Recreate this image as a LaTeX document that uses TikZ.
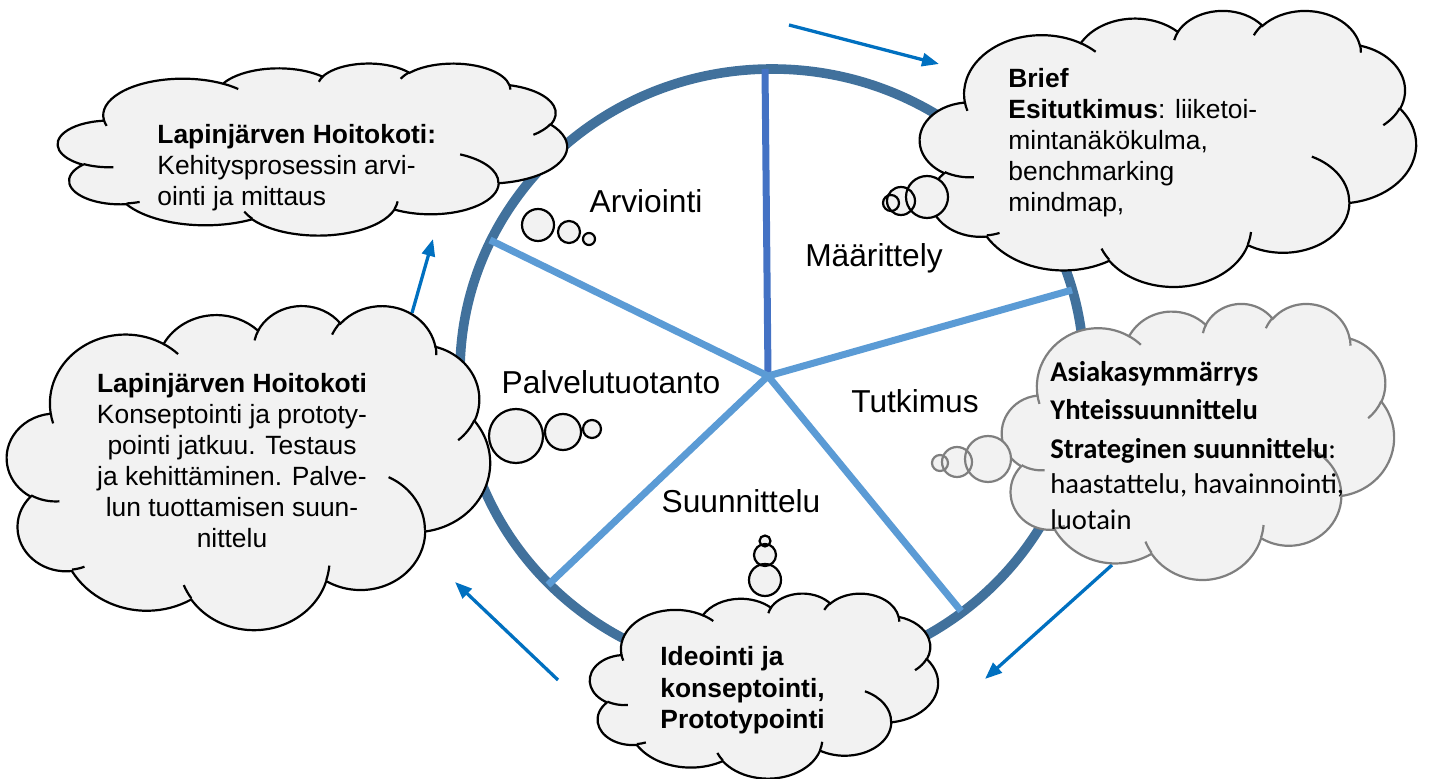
\documentclass[tikz,border=0pt]{standalone}
\usepackage{fontspec}
\setmainfont{Liberation Sans}
\newfontfamily\calibri{Carlito}
\usetikzlibrary{arrows.meta}

\definecolor{ringblue}{HTML}{41719C}
\definecolor{spokeblue}{HTML}{5B9BD5}
\definecolor{topblue}{HTML}{4472C4}
\definecolor{arrowblue}{HTML}{0070C0}
\definecolor{cloudfill}{HTML}{F2F2F2}
\definecolor{cloudgray}{HTML}{7F7F7F}

\tikzset{
    oarc/.code args={#1/#2/#3/#4}{%
        \pgfmathsetmacro\oarcst{atan2(#1*sin(#3),#2*cos(#3))}%
        \pgfmathsetmacro\oarcen{atan2(#1*sin(#3+#4),#2*cos(#3+#4))}%
        \pgfmathsetmacro\oarcdl{\oarcen-\oarcst}%
        \pgfmathsetmacro\oarcdl{\oarcdl+360*(#4>0)*(\oarcdl<0)-360*(#4<0)*(\oarcdl>0)}%
        \edef\oarctmp{\noexpand\pgfkeysalso{x radius=#1,y radius=#2,start angle=\oarcst,delta angle=\oarcdl}}%
        \oarctmp
    },
    phase/.style={font=\fontsize{15.85}{19}\selectfont, inner sep=0pt, anchor=base},
    cloudtext/.style={font=\fontsize{13.2}{15.5}\selectfont, inner sep=0pt, align=left, anchor=north west},
    flow/.style={arrowblue, line width=1.65pt, -{Triangle[length=8.5pt,width=6.5pt]}},
    spoke/.style={spokeblue, line width=3.5pt},
}

% cloud outline: colour, left, top, width, height
\newcommand\cloudbody[5]{%
    \pgfmathsetmacro\cloudxu{#4/864}%
    \pgfmathsetmacro\cloudyu{#5/864}%
    \begin{scope}[shift={(#2,#3)}, x=\cloudxu pt, y=-\cloudyu pt]
        \filldraw[draw=#1, fill=cloudfill, line width=1.1pt]
            (39,143.7)
            arc[oarc=67.53/91.90/-190.4875/123.7805]
            arc[oarc=53.33/72.67/-144.1024/89.9452]
            arc[oarc=43.65/59.45/-145.8079/99.7230]
            arc[oarc=48.57/65.95/-130.9861/117.2417]
            arc[oarc=53.33/72.73/-78.7089/109.0269]
            arc[oarc=67.75/92.20/-46.2673/130.2690]
            arc[oarc=57.85/78.67/0.6250/114.0333]
            arc[oarc=67.52/92.15/22.4516/115.1726]
            arc[oarc=77.20/105.43/66.2426/75.7110]
            arc[oarc=43.60/59.18/-274.9421/146.7356]
            arc[oarc=43.45/59.45/-246.8285/152.5189]
            -- cycle;
        \draw[#1, line width=1.1pt]
            (46.93,261.77) arc[oarc=43.45/59.45/86.7420/26.4295]
            (69.28,348.99) arc[oarc=43.60/59.18/73.6105/11.4475]
            (164.78,390.90) arc[oarc=67.52/92.15/137.6242/14.0811]
            (288.27,347.51) arc[oarc=67.52/92.15/6.4533/15.9984]
            (341.29,229.54) arc[oarc=57.85/78.67/-70.2924/70.9174]
            (417.98,153.54) arc[oarc=53.33/72.73/30.3180/27.7515]
            (383.24,54.26) arc[oarc=48.57/65.95/-13.7443/14.8547]
            (290.78,39.52) arc[oarc=48.57/65.95/-149.1815/18.1954]
            (221.41,47.20) arc[oarc=43.65/59.45/-163.4943/17.6864]
            (140.00,51.92) arc[oarc=67.53/91.90/-66.7070/12.3194]
            (41.27,157.89) arc[oarc=67.53/91.90/157.6544/11.8582];
    \end{scope}}

\begin{document}
\begin{tikzpicture}[x=0.5pt, y=-0.5pt]
    \useasboundingbox (0,0) rectangle (1429,779);

    \coordinate (c) at (768,376);
    \coordinate (sT) at (765,69);
    \coordinate (sR) at (1072,290);
    \coordinate (sLR) at (961,611);
    \coordinate (sLL) at (548,585);
    \coordinate (sUL) at (490,240);

    \draw[ringblue, line width=4.8pt] (772,372) ellipse[x radius=312, y radius=303];

    \draw[topblue, line width=3.5pt] (sT)--(c);
    \draw[spoke] (c)--(sR);
    \draw[spoke] (c)--(sLR);
    \draw[spoke] (c)--(sLL);
    \draw[spoke] (c)--(sUL);

    \node[phase] (arv) at (646,213) {Arviointi};
    \node[phase] (maa) at (874,267) {Määrittely};
    \node[phase] (pal) at (611,394) {Palvelutuotanto};
    \node[phase] (tut) at (915,413) {Tutkimus};
    \node[phase] (suu) at (741,513) {Suunnittelu};

    \coordinate (aT0) at (789,25);   \coordinate (aT1) at (939,64);
    \coordinate (aR0) at (1112,565); \coordinate (aR1) at (985,679);
    \coordinate (aB0) at (558,680);  \coordinate (aB1) at (455,582);
    \coordinate (aL0) at (412,313);  \coordinate (aL1) at (433,239);

    \draw[flow] (aT0)--(aT1);
    \draw[flow] (aR0)--(aR1);
    \draw[flow] (aB0)--(aB1);
    \draw[flow] (aL0)--(aL1);

    \cloudbody{black}{58}{63}{509}{172}
    \cloudbody{black}{7}{305}{483}{324}
    \cloudbody{black}{920}{10}{496}{276}
    \cloudbody{cloudgray}{1002}{303}{392}{276}
    \cloudbody{black}{590}{593}{348}{185}

    % thought bubbles
    \foreach \bx/\by/\br in {538/225/16, 569/232/11, 589/239/6,
            516/436/27, 563/432/18, 592/429/9,
            927/197/21, 901/201/14, 891/203/8,
            988/459/23, 957/462/15, 940/463/8,
            765/580/16, 765/555/11, 765/541/5.5}
        \fill[cloudfill] (\bx,\by) circle[radius=\br];
    \foreach \bx/\by/\br in {538/225/16, 569/232/11, 589/239/6,
            516/436/27, 563/432/18, 592/429/9,
            927/197/21, 901/201/14, 891/203/8,
            765/580/16, 765/555/11, 765/541/5.5}
        \draw[line width=1.1pt] (\bx,\by) circle[radius=\br];
    \foreach \bx/\by/\br in {988/459/23, 957/462/15, 940/463/8}
        \draw[cloudgray, line width=1.1pt] (\bx,\by) circle[radius=\br];

    \node[cloudtext] (tA) at (157,124)
        {\textbf{Lapinjärven Hoitokoti:}\\Kehitysprosessin arvi-\\ointi ja mittaus};
    \node[cloudtext, align=center, anchor=north] (tB) at (232,373)
        {\textbf{Lapinjärven Hoitokoti}\\Konseptointi ja prototy-\\pointi jatkuu. Testaus\\ja kehittäminen. Palve-\\lun tuottamisen suun-\\nittelu};
    \node[cloudtext] (tC) at (1008,68)
        {\textbf{Brief}\\\textbf{Esitutkimus}: liiketoi-\\mintanäkökulma,\\benchmarking\\mindmap,};
    \node[cloudtext, font=\calibri\fontsize{14.3}{17.7}\selectfont] (tD) at (1050,361)
        {\textbf{Asiakasymmärrys}\\[1.5pt]\textbf{Yhteissuunnittelu}\\[1.5pt]\textbf{Strateginen suunnittelu}:\\haastattelu, havainnointi,\\luotain};
    \node[cloudtext, font=\bfseries\fontsize{13.2}{15.75}\selectfont] (tE) at (660,646)
        {Ideointi ja\\konseptointi,\\Prototypointi};

\end{tikzpicture}
\end{document}
